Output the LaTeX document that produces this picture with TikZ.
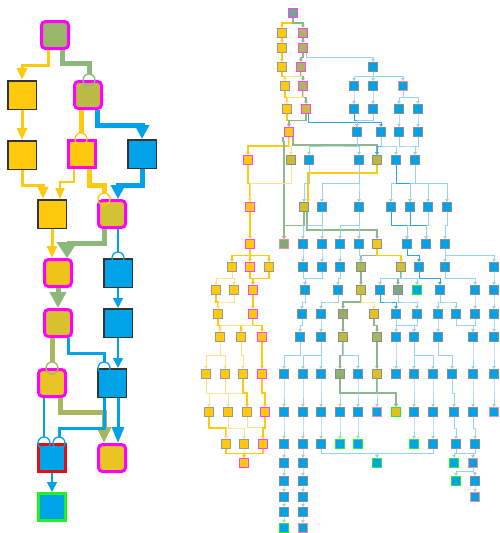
\documentclass[tikz,border=0pt]{standalone}
\usetikzlibrary{arrows.meta,calc}
\pgfdeclarelayer{bg}
\pgfsetlayers{bg,main}
\definecolor{cY}{HTML}{FFC90E}
\definecolor{cB}{HTML}{00A2E8}
\definecolor{cM}{HTML}{FF00FF}
\definecolor{cR}{HTML}{E01010}
\definecolor{cG}{HTML}{22F022}
\definecolor{cA}{HTML}{98B868}
\definecolor{cC}{HTML}{BDBB48}
\definecolor{cH}{HTML}{D5C232}
\definecolor{cI}{HTML}{EEC418}
\definecolor{cK}{HTML}{D8C030}
\definecolor{cMy}{HTML}{EAC424}
\definecolor{lGreen}{HTML}{8DB87C}
\definecolor{lOlive}{HTML}{A5B860}
\definecolor{eBL}{HTML}{96D2F2}
\definecolor{eBD}{HTML}{2AA6E6}
\definecolor{eYL}{HTML}{FFE08A}
\definecolor{eGR}{HTML}{8CB88A}
\newcommand\E[3][eb]{\draw[#1] (#2.south) |- ($(#2.south)!.5!(#3.north)$) -| (#3.north);}
\tikzset{
 big/.style={minimum size=28.5pt,inner sep=0pt,line width=1.5pt,draw=black!80},
 bigm/.style={minimum size=27pt,inner sep=0pt,line width=3pt,draw=cM,rounded corners=4pt},
 bigms/.style={minimum size=27pt,inner sep=0pt,line width=3pt,draw=cM},
 bigr/.style={minimum size=27pt,inner sep=0pt,line width=3pt,draw=cR},
 bigg/.style={minimum size=27pt,inner sep=0pt,line width=3pt,draw=cG},
 sn/.style={minimum size=9pt,inner sep=0pt,line width=1pt,draw=black!45,fill=cB},
 sm/.style={sn,draw=cM!75,line width=1.2pt},
 sg/.style={sn,draw=cG,line width=1.2pt},
 sp/.style={sn,draw=red!45},
 smalltip/.style={-{Triangle[length=3pt,width=3.5pt]}},
 eb/.style={draw=eBL,line width=1pt,smalltip},
 ebd/.style={draw=eBD,line width=1pt,smalltip},
 ey/.style={draw=cY,line width=1.2pt,smalltip},
 eyl/.style={draw=eYL,line width=1pt,smalltip},
 eg/.style={draw=eGR,line width=1.2pt,smalltip},
 ly3/.style={draw=cY,line width=3pt},
 ly2/.style={draw=cY,line width=2pt},
 ly5/.style={draw=cY,line width=5pt},
 lb5/.style={draw=cB,line width=5pt},
 lb3/.style={draw=cB,line width=3pt},
 lb1/.style={draw=cB,line width=1.5pt},
 lg5/.style={draw=lGreen,line width=5pt},
 lo5/.style={draw=lOlive,line width=5pt},
 circ/.style={line width=1.3pt}
}
\begin{document}
\begin{tikzpicture}[x=1pt,y=-1pt]
\begin{pgfonlayer}{bg}
\fill[white] (0,0) rectangle (500,533);
\end{pgfonlayer}
\useasboundingbox (0,0) rectangle (500,533);
% ---------------- left diagram ----------------
\node[bigm,fill=cA] (A) at (55,35) {};
\node[big,fill=cY] (B) at (22,95) {};
\node[bigm,fill=cC] (C) at (88,95) {};
\node[big,fill=cY] (D) at (22,155) {};
\node[bigms,fill=cY] (E) at (82,154) {};
\node[big,fill=cB] (F) at (142,154) {};
\node[big,fill=cY] (G) at (52,214) {};
\node[bigm,fill=cH] (H) at (112,214) {};
\node[bigm,fill=cI] (I) at (58,273) {};
\node[big,fill=cB] (J) at (118,273) {};
\node[bigm,fill=cK] (K) at (58,323) {};
\node[big,fill=cB] (L) at (118,323) {};
\node[bigm,fill=cMy] (M) at (52,383) {};
\node[big,fill=cB] (N) at (112,383) {};
\node[bigr,fill=cB] (O) at (52,458) {};
\node[bigm,fill=cMy] (P) at (112,458) {};
\node[bigg,fill=cB] (Q) at (52,507) {};

\draw[ly3,-{Triangle[width=10pt,length=12pt]}] ($(A.south)+(-7,0)$) |- ($(B.north)+(0,-15)$) -| (B.north);
\draw[lg5] ($(A.south)+(7,0)$) |- ($(C.north)+(1,-17)$) -- ($(C.north)+(1,-6)$);
\draw[draw=lGreen,circ] ($(C.north)+(1,0)$) circle (6pt);
\draw[ly3,-{Triangle[width=10pt,length=12pt]}] (B.south) -- (D.north);
\draw[ly5] ($(C.south)+(-7,0)$) -- ($(E.north)+(-1,-6)$);
\draw[draw=cY,circ] ($(E.north)+(-1,0)$) circle (6pt);
\draw[lb5,-{Triangle[width=14pt,length=14pt]}] ($(C.south)+(9,0)$) |- ($(F.north)+(0,-14)$) -| (F.north);
\draw[ly3,-{Triangle[width=10pt,length=12pt]}] (D.south) |- ($(G.north)+(-9,-14)$) -| ($(G.north)+(-9,0)$);
\draw[ly2,-{Triangle[width=9pt,length=11pt]}] ($(E.south)+(-8,0)$) |- ($(G.north)+(8,-17)$) -| ($(G.north)+(8,0)$);
\draw[ly5] ($(E.south)+(7,0)$) |- ($(H.north)+(-8,-14)$) -- ($(H.north)+(-8,-6)$);
\draw[draw=cY,circ] ($(H.north)+(-8,0)$) circle (6pt);
\draw[lb5,-{Triangle[width=14pt,length=14pt]}] (F.south) |- ($(H.north)+(6,-14)$) -| ($(H.north)+(6,0)$);
\draw[ly3,-{Triangle[width=10pt,length=12pt]}] (G.south) -- ($(I.north)+(-6,0)$);
\draw[lg5,-{Triangle[width=20pt,length=16pt]}] ($(H.south)+(-8,0)$) |- ($(I.north)+(9,-15)$) -| ($(I.north)+(9,0)$);
\draw[lb1] ($(H.south)+(6,0)$) -- ($(J.north)+(0,-6)$);
\draw[draw=cB,circ] (J.north) circle (6pt);
\draw[lg5,-{Triangle[width=16pt,length=16pt]}] (I.south) -- (K.north);
\draw[lb1,-{Triangle[width=10pt,length=10pt]}] (J.south) -- (L.north);
\draw[lo5] ($(K.south)+(-6,0)$) -- ($(M.north)+(0,-6)$);
\draw[draw=lOlive,circ] (M.north) circle (6pt);
\draw[lb3] ($(K.south)+(10,0)$) |- ($(N.north)+(-8,-15)$) -- ($(N.north)+(-8,-6)$);
\draw[draw=cB,circ] ($(N.north)+(-8,0)$) circle (6pt);
\draw[lb1,-{Triangle[width=10pt,length=10pt]}] (L.south) -- ($(N.north)+(6,0)$);
\draw[lb1] ($(M.south)+(-8,0)$) -- ($(O.north)+(-8,-6)$);
\draw[draw=cB,circ] ($(O.north)+(-8,0)$) circle (6pt);
\draw[lo5,-{Triangle[width=14pt,length=16pt]}] ($(M.south)+(8,0)$) |- ($(P.north)+(-8,-31)$) -| ($(P.north)+(-8,0)$);
\draw[lb3] ($(N.south)+(-8,0)$) |- ($(O.north)+(7,-15)$) -- ($(O.north)+(7,-6)$);
\draw[draw=cB,circ] ($(O.north)+(7,0)$) circle (6pt);
\draw[lb3,-{Triangle[width=12pt,length=16pt]}] ($(N.south)+(6,0)$) -- ($(P.north)+(6,0)$);
\draw[lb1,-{Triangle[width=10pt,length=10pt]}] (O.south) -- (Q.north);

% ---------------- right diagram: nodes ----------------
\foreach \x/\y in {373/67,354/86,373/86,354/109,373/109,399/109,418/109,357/132,381/132,399/132,418/132,
 309/160,359/160,396/160,415/160,322/207,359/207,391/207,410/207,428/207,447/207,
 303/244,322/244,340/244,359/244,407/244,426/244,445/244,303/267,322/267,340/267,419/267,445/267,494/267,
 305/290,338/290,380/290,440/290,475/290,494/290,302/314,321/314,396/314,417/314,438/314,456/314,475/314,494/314,
 300/337,321/337,396/337,414/337,438/337,473/337,494/337,
 284/374,303/374,321/374,358/374,396/374,414/374,433/374,452/374,473/374,494/374,
 284/412,303/412,321/412,340/412,358/412,414/412,433/412,454/412,473/412,
 284/444,303/444,321/444,433/444,456/444,475/444,284/463,303/463,284/481,303/481,475/481,
 284/497,303/497,284/512,303/512}
 {\node[sn] (r\x-\y) at (\x,\y) {};}
\foreach \x/\y in {417/290,340/444,358/444,414/444,377/463,454/463,456/481,284/528}
 {\node[sg] (r\x-\y) at (\x,\y) {};}
\foreach \x/\y in {403/86,377/412,494/412,473/463,475/497,303/528}
 {\node[sp] (r\x-\y) at (\x,\y) {};}
\foreach \x/\y in {282/33,282/48,282/67,285/86,287/109,232/267,269/267,216/290,234/290,218/314,
 220/337,241/337,206/374,225/374,243/374,209/412,228/412,247/412,226/444,244/444}
 {\node[sn,fill=cY,draw=black!40] (r\x-\y) at (\x,\y) {};}
\foreach \x/\y in {289/132,248/160,250/207,250/244,250/267,253/290,253/314,262/337,262/374,265/412,263/444,244/463}
 {\node[sm,fill=cY] (r\x-\y) at (\x,\y) {};}
\node[sm,fill={rgb,255:red,111;green,168;blue,144}] (r293-13) at (293,13) {};
\foreach \x/\y in {303/33,303/48,301/67,303/86}
 {\node[sm,fill={rgb,255:red,168;green,184;blue,88}] (r\x-\y) at (\x,\y) {};}
\node[sm,fill={rgb,255:red,200;green,190;blue,56}] (r306-109) at (306,109) {};
\node[sn,fill={rgb,255:red,205;green,186;blue,48}] (r291-160) at (291,160) {};
\node[sn,fill={rgb,255:red,184;green,184;blue,64}] (r377-160) at (377,160) {};
\node[sn,fill={rgb,255:red,207;green,192;blue,48}] (r304-207) at (304,207) {};
\node[sn,fill={rgb,255:red,128;green,168;blue,120},draw=red!45] (r284-244) at (284,244) {};
\node[sn,fill={rgb,255:red,240;green,200;blue,32}] (r377-244) at (377,244) {};
\node[sn,fill={rgb,255:red,168;green,184;blue,88}] (r361-267) at (361,267) {};
\node[sn,fill={rgb,255:red,208;green,192;blue,56}] (r401-267) at (401,267) {};
\node[sn,fill={rgb,255:red,200;green,192;blue,56}] (r361-290) at (361,290) {};
\node[sn,fill={rgb,255:red,120;green,168;blue,136}] (r398-290) at (398,290) {};
\node[sn,fill={rgb,255:red,152;green,176;blue,96}] (r343-314) at (343,314) {};
\node[sn,fill={rgb,255:red,232;green,192;blue,32}] (r374-314) at (374,314) {};
\node[sn,fill={rgb,255:red,189;green,184;blue,64}] (r343-337) at (343,337) {};
\node[sn,fill={rgb,255:red,160;green,184;blue,96}] (r377-337) at (377,337) {};
\node[sn,fill={rgb,255:red,144;green,176;blue,112}] (r340-374) at (340,374) {};
\node[sn,fill={rgb,255:red,224;green,192;blue,32}] (r377-374) at (377,374) {};
\node[sg,fill={rgb,255:red,224;green,192;blue,32}] (r396-412) at (396,412) {};

% ---------------- right diagram: edges ----------------
\begin{pgfonlayer}{bg}
\E[ey]{r293-13}{r282-33}
\E[eg]{r293-13}{r303-33}
\E[ey]{r282-33}{r282-48}
\E[ey]{r282-48}{r282-67}
\E[ey]{r282-67}{r285-86}
\E[ey]{r285-86}{r287-109}
\E[ey]{r287-109}{r289-132}
\E[eg]{r303-33}{r303-48}
\E[eg]{r303-48}{r301-67}
\E[eg]{r301-67}{r303-86}
\E[eg]{r303-86}{r306-109}
\E[eg]{r306-109}{r289-132}
\draw[eb] ($(r303-48.south)+(3,0)$) |- ($(r373-67.north)+(0,-5)$) -| (r373-67.north);
\E[eyl]{r301-67}{r285-86}
\E[eyl]{r303-86}{r287-109}
\draw[ebd] ($(r306-109.south)+(2,0)$) |- ($(r381-132.north)+(0,-5)$) -| (r381-132.north);
\E{r373-67}{r354-86}
\E{r373-67}{r373-86}
\E{r373-67}{r403-86}
\E{r354-86}{r354-109}
\E{r373-86}{r373-109}
\E{r403-86}{r399-109}
\E{r403-86}{r418-109}
\E[ebd]{r354-109}{r357-132}
\E{r373-109}{r357-132}
\E{r399-109}{r399-132}
\E{r418-109}{r418-132}
\E[ey]{r289-132}{r248-160}
\E[eyl]{r289-132}{r291-160}
\draw[eg] ($(r289-132.south)+(4,0)$) |- ($(r377-160.north)+(0,-10)$) -| (r377-160.north);
\draw[eg] ($(r289-132.south)+(-6,0)$) -- ++(0,4) -| (r284-244.north);
\E{r357-132}{r309-160}
\E{r357-132}{r359-160}
\E[ebd]{r381-132}{r377-160}
\E{r381-132}{r396-160}
\E{r399-132}{r415-160}
\E{r418-132}{r415-160}
\E[ey]{r248-160}{r250-207}
\E[eyl]{r291-160}{r250-207}
\E{r309-160}{r304-207}
\draw[ey] (r377-160.south) |- ($(r304-207.north)+(4,-29)$) -| ($(r304-207.north)+(4,0)$);
\E{r359-160}{r359-207}
\E{r359-160}{r322-207}
\E{r396-160}{r391-207}
\E[ebd]{r396-160}{r410-207}
\E{r415-160}{r410-207}
\E{r415-160}{r428-207}
\E{r415-160}{r447-207}
\E[ey]{r250-207}{r250-244}
\E[eg]{r304-207}{r284-244}
\draw[eg] ($(r304-207.south)+(3,0)$) |- ($(r377-244.north)+(0,-9)$) -| (r377-244.north);
\E{r322-207}{r322-244}
\E{r322-207}{r303-244}
\E{r359-207}{r340-244}
\E{r359-207}{r359-244}
\E[ebd]{r391-207}{r407-244}
\E{r410-207}{r407-244}
\E[ebd]{r410-207}{r426-244}
\E{r428-207}{r426-244}
\E{r447-207}{r445-244}
\E[ey]{r250-244}{r232-267}
\E[ey]{r250-244}{r250-267}
\E[ey]{r250-244}{r269-267}
\E{r303-244}{r303-267}
\E{r322-244}{r322-267}
\E{r340-244}{r340-267}
\E[eg]{r377-244}{r361-267}
\E[ey]{r377-244}{r401-267}
\E{r359-244}{r361-267}
\E[ebd]{r407-244}{r419-267}
\E{r445-244}{r445-267}
\E{r445-244}{r494-267}
\E[eyl]{r232-267}{r216-290}
\E[eyl]{r232-267}{r234-290}
\E[ey]{r250-267}{r253-290}
\E[ey]{r269-267}{r253-290}
\E{r303-267}{r305-290}
\E{r322-267}{r305-290}
\E{r340-267}{r338-290}
\E[eg]{r361-267}{r361-290}
\E[eg]{r401-267}{r398-290}
\E{r401-267}{r380-290}
\E{r401-267}{r417-290}
\E[ebd]{r419-267}{r440-290}
\E{r445-267}{r475-290}
\E{r494-267}{r494-290}
\E[ey]{r216-290}{r218-314}
\E[eyl]{r234-290}{r218-314}
\E[ey]{r253-290}{r253-314}
\E{r305-290}{r302-314}
\E{r338-290}{r321-314}
\E[eg]{r361-290}{r343-314}
\E[eyl]{r361-290}{r374-314}
\E[ebd]{r380-290}{r396-314}
\E{r398-290}{r417-314}
\E{r440-290}{r438-314}
\E{r440-290}{r456-314}
\E{r475-290}{r475-314}
\E{r494-290}{r494-314}
\E[ey]{r218-314}{r220-337}
\E[ey]{r253-314}{r241-337}
\E[ey]{r253-314}{r262-337}
\E[eyl]{r253-314}{r220-337}
\E{r302-314}{r300-337}
\E{r321-314}{r321-337}
\E[eg]{r343-314}{r343-337}
\E[eg]{r374-314}{r377-337}
\E{r396-314}{r396-337}
\E{r396-314}{r414-337}
\E{r417-314}{r414-337}
\E{r438-314}{r438-337}
\E{r456-314}{r473-337}
\E{r475-314}{r473-337}
\E{r494-314}{r494-337}
\E[eyl]{r220-337}{r206-374}
\E[eyl]{r220-337}{r225-374}
\E[eyl]{r241-337}{r243-374}
\E[ey]{r262-337}{r262-374}
\E{r300-337}{r284-374}
\E{r321-337}{r303-374}
\E{r321-337}{r321-374}
\E[eg]{r343-337}{r340-374}
\E{r343-337}{r358-374}
\E[eg]{r377-337}{r377-374}
\E{r396-337}{r396-374}
\E{r414-337}{r414-374}
\E{r414-337}{r433-374}
\E{r438-337}{r452-374}
\E{r473-337}{r473-374}
\E{r494-337}{r494-374}
\E[eyl]{r206-374}{r209-412}
\E[eyl]{r206-374}{r228-412}
\E[eyl]{r225-374}{r247-412}
\E[ey]{r243-374}{r247-412}
\E[ey]{r262-374}{r265-412}
\E{r284-374}{r284-412}
\E{r303-374}{r303-412}
\E{r321-374}{r321-412}
\E{r340-374}{r340-412}
\E[eg]{r340-374}{r396-412}
\E{r358-374}{r358-412}
\E[eg]{r377-374}{r396-412}
\E{r377-374}{r377-412}
\E{r414-374}{r414-412}
\E{r433-374}{r433-412}
\E{r452-374}{r454-412}
\E{r473-374}{r473-412}
\E{r494-374}{r494-412}
\E[ey]{r209-412}{r226-444}
\E[eyl]{r228-412}{r226-444}
\E[eyl]{r228-412}{r244-444}
\E[eyl]{r247-412}{r263-444}
\E[ey]{r265-412}{r263-444}
\E{r284-412}{r284-444}
\E{r303-412}{r303-444}
\E{r321-412}{r321-444}
\E{r340-412}{r340-444}
\E{r358-412}{r358-444}
\E{r414-412}{r414-444}
\E{r433-412}{r433-444}
\E{r454-412}{r456-444}
\E{r473-412}{r475-444}
\E[ey]{r226-444}{r244-463}
\E[eyl]{r244-444}{r244-463}
\E[ey]{r263-444}{r244-463}
\E{r284-444}{r284-463}
\E{r284-463}{r284-481}
\E{r284-481}{r284-497}
\E{r284-497}{r284-512}
\E{r284-512}{r284-528}
\E{r303-444}{r303-463}
\E{r303-463}{r303-481}
\E{r303-481}{r303-497}
\E{r303-497}{r303-512}
\E{r303-512}{r303-528}
\E{r321-444}{r377-463}
\E{r433-444}{r377-463}
\E{r456-444}{r454-463}
\E{r456-444}{r473-463}
\E{r475-444}{r473-463}
\E{r473-463}{r456-481}
\E{r473-463}{r475-481}
\E{r475-481}{r475-497}
\end{pgfonlayer}
\end{tikzpicture}
\end{document}
